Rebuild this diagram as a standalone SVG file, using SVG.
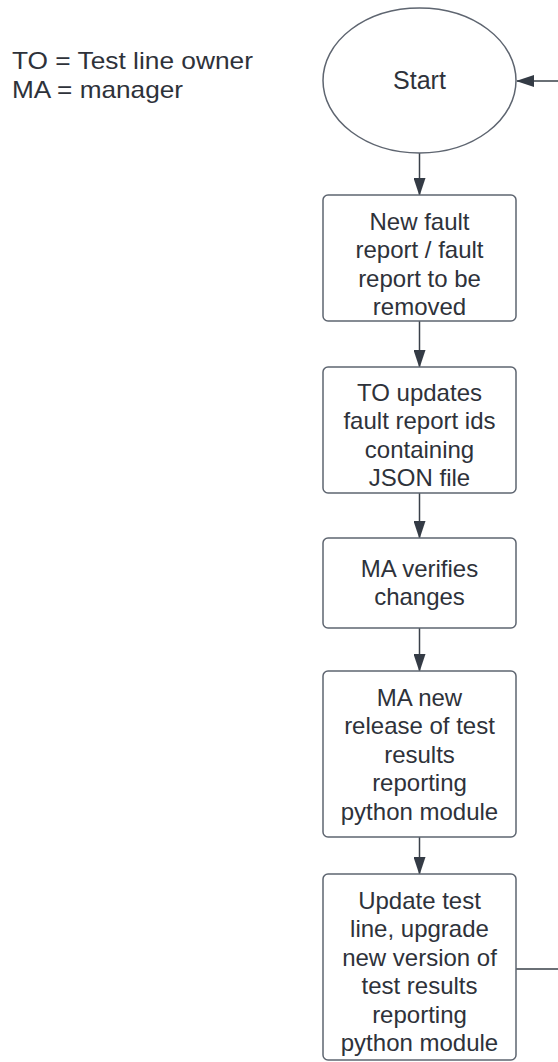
<svg xmlns="http://www.w3.org/2000/svg" width="558" height="1062" viewBox="0 0 558 1062">
  <defs>
    <style>
      .shape { fill: #ffffff; stroke: #5e6570; stroke-width: 1.5; }
      .label { font-family: "Liberation Sans", Arial, sans-serif; font-size: 24px; fill: #2e323a; text-anchor: middle; }
      .title { font-size: 25px; }
      .legend { font-family: "Liberation Sans", Arial, sans-serif; font-size: 24px; fill: #2e323a; }
      .edge { fill: none; stroke: #3a414a; stroke-width: 1.5; }
    </style>
    <marker id="arrow" viewBox="0 0 18 12" refX="17" refY="6" markerUnits="userSpaceOnUse" markerWidth="18" markerHeight="12" orient="auto">
      <path d="M0,0 L18,6 L0,12 Z" fill="#343b45"/>
    </marker>
  </defs>

  <rect width="558" height="1062" fill="#ffffff"/>

  <g id="legend">
    <text class="legend" x="12" y="68.5" textLength="241" lengthAdjust="spacingAndGlyphs">TO = Test line owner</text>
    <text class="legend" x="12" y="98" textLength="171" lengthAdjust="spacingAndGlyphs">MA = manager</text>
  </g>

  <g id="connectors">
    <line class="edge" x1="419.5" y1="153" x2="419.5" y2="195" marker-end="url(#arrow)"/>
    <line class="edge" x1="419.5" y1="321" x2="419.5" y2="367" marker-end="url(#arrow)"/>
    <line class="edge" x1="419.5" y1="493" x2="419.5" y2="538" marker-end="url(#arrow)"/>
    <line class="edge" x1="419.5" y1="628" x2="419.5" y2="671" marker-end="url(#arrow)"/>
    <line class="edge" x1="419.5" y1="837" x2="419.5" y2="874" marker-end="url(#arrow)"/>
    <path class="edge" d="M516,969 H575 V81 H517" marker-end="url(#arrow)"/>
  </g>

  <g id="start">
    <ellipse class="shape" cx="419.5" cy="80.5" rx="96.5" ry="72.5"/>
    <text class="label title" x="419.5" y="89">Start</text>
  </g>

  <g id="new-fault-report">
    <rect class="shape" x="323" y="195" width="193" height="126" rx="5"/>
    <text class="label" x="419.5" y="229.5">New fault</text>
    <text class="label" x="419.5" y="258">report / fault</text>
    <text class="label" x="419.5" y="286.5">report to be</text>
    <text class="label" x="419.5" y="315">removed</text>
  </g>

  <g id="update-json">
    <rect class="shape" x="323" y="367" width="193" height="126" rx="5"/>
    <text class="label" x="419.5" y="400.5">TO updates</text>
    <text class="label" x="419.5" y="429">fault report ids</text>
    <text class="label" x="419.5" y="457.5">containing</text>
    <text class="label" x="419.5" y="486">JSON file</text>
  </g>

  <g id="verify-changes">
    <rect class="shape" x="323" y="538" width="193" height="90" rx="5"/>
    <text class="label" x="419.5" y="576.5">MA verifies</text>
    <text class="label" x="419.5" y="605">changes</text>
  </g>

  <g id="new-release">
    <rect class="shape" x="323" y="671" width="193" height="166" rx="5"/>
    <text class="label" x="419.5" y="705.5">MA new</text>
    <text class="label" x="419.5" y="734">release of test</text>
    <text class="label" x="419.5" y="762.5">results</text>
    <text class="label" x="419.5" y="791">reporting</text>
    <text class="label" x="419.5" y="819.5">python module</text>
  </g>

  <g id="update-test-line">
    <rect class="shape" x="323" y="874" width="193" height="186" rx="5"/>
    <text class="label" x="419.5" y="908.5">Update test</text>
    <text class="label" x="419.5" y="937">line, upgrade</text>
    <text class="label" x="419.5" y="965.5">new version of</text>
    <text class="label" x="419.5" y="994">test results</text>
    <text class="label" x="419.5" y="1022.5">reporting</text>
    <text class="label" x="419.5" y="1051">python module</text>
  </g>
</svg>
